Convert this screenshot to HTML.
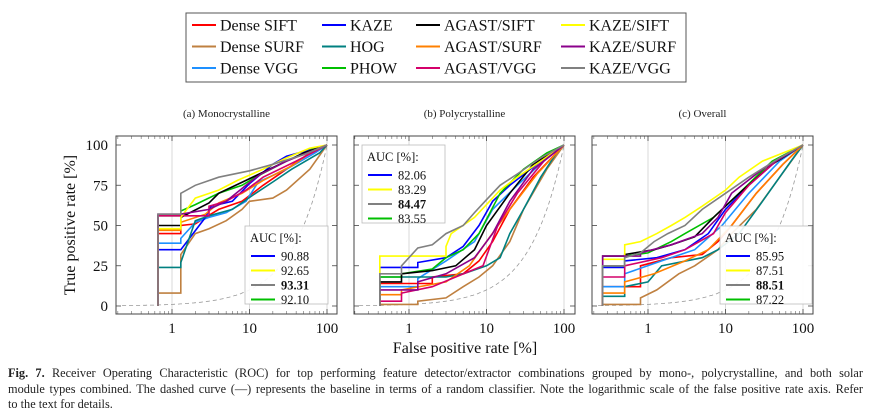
<!DOCTYPE html>
<html><head><meta charset="utf-8"><style>
html,body{margin:0;padding:0;background:#fff;}
body{width:873px;height:419px;overflow:hidden;position:relative;font-family:"Liberation Serif",serif;}
.cap{position:absolute;left:8px;width:855px;font-size:12.3px;line-height:15.5px;color:#222;}
.cap div{text-align:justify;text-align-last:justify;white-space:nowrap;}
.cap div.last{text-align-last:left;}
</style></head><body>
<svg id="chart" width="873" height="419" style="position:absolute;left:0;top:0" font-family="Liberation Serif, serif"></svg>
<div class="cap" style="top:366px">
<div><b>Fig. 7.</b> Receiver Operating Characteristic (ROC) for top performing feature detector/extractor combinations grouped by mono-, polycrystalline, and both solar</div>
<div>module types combined. The dashed curve (—) represents the baseline in terms of a random classifier. Note the logarithmic scale of the false positive rate axis. Refer</div>
<div class="last">to the text for details.</div>
</div>
<script>
const seriesNames=["Dense SIFT","Dense SURF","Dense VGG","KAZE","HOG","PHOW","AGAST/SIFT","AGAST/SURF","AGAST/VGG","KAZE/SIFT","KAZE/SURF","KAZE/VGG"];
const seriesColors=["#ff0000","#bf8040","#1e90ff","#0000ff","#008080","#00bf00","#000000","#ff8000","#d4006a","#ffff00","#8b008b","#808080"];
const panelTitles=["(a)  Monocrystalline","(b)  Polycrystalline","(c)  Overall"];
const xTicks=[1,10,100];
const yTicks=[0,25,50,75,100];
const aucLabels=[["90.88","92.65","93.31","92.10"],["82.06","83.29","84.47","83.55"],["85.95","87.51","88.51","87.22"]];
const aucColors=["#0000ff","#ffff00","#808080","#00bf00"];
const monoFPR=[
[0.66,1.3,2,2.7,4,8,15,30,60,100],
[0.66,1.3,2,3,5,8,10,20,30,60,100],
[0.66,1.3,2,3,5,9,13,30,70,100],
[0.66,1.3,2.7,3.2,6,10,20,30,60,100],
[0.66,1.3,2,3,6,12,20,35,80,100],
[0.66,1.3,2,4,8,12,30,70,100],
[0.66,1.3,3,4,9,18,50,100],
[0.66,1.3,2.7,4,8,15,35,70,100],
[0.66,3,5,9,15,40,100],
[0.66,1.3,2,4,7,15,30,60,100],
[0.66,1.3,3,5,9,14,30,70,100],
[0.66,1.3,2,4,10,20,50,100]];
const monoTPR=[
[45,50,51,55,60,65,75,85,95,100],
[8,32,45,48,53,60,65,67,72,85,100],
[39,42,52,55,58,65,77,85,95,100],
[35,35,55,62,65,76,88,93,97,100],
[24,27,53,56,60,70,77,85,95,100],
[56,59,63,70,75,80,90,98,100],
[50,55,64,70,78,85,95,100],
[47,52,57,64,70,78,87,97,100],
[56,62,65,72,80,90,100],
[48,55,67,72,78,85,92,98,100],
[57,57,60,65,75,82,90,97,100],
[57,70,75,80,84,88,94,100]];
const polyFPR=[
[0.42,2,5,8,12,20,40,100],
[0.42,1.3,3,5,8,12,20,30,60,100],
[0.42,1.3,3,7,12,25,60,100],
[0.42,1.3,3,5,8,12,20,50,100],
[0.42,3,5,10,15,20,30,50,80,100],
[0.42,0.8,2,3,5,8,15,30,60,100],
[0.42,0.8,2,4,7,10,20,40,100],
[0.42,0.8,3,6,10,20,45,100],
[0.42,0.8,2,4,9,14,25,55,100],
[0.42,3,3.5,7,15,25,50,100],
[0.42,1.3,3,7,12,20,40,100],
[0.42,0.8,1.3,2,3,5,7,10,15,25,50,100]];
const polyTPR=[
[14,18,20,28,40,60,80,100],
[1,3,5,12,18,25,40,60,85,100],
[12,17,28,40,60,75,92,100],
[24,27,30,37,50,65,75,90,100],
[18,18,20,25,30,45,60,80,95,100],
[18,20,23,30,35,45,70,85,95,100],
[15,20,22,25,35,50,70,88,100],
[7,10,15,25,40,60,82,100],
[3,8,12,18,25,50,70,90,100],
[31,37,45,55,72,80,90,100],
[10,15,20,30,45,65,85,100],
[20,25,36,38,45,50,58,66,75,82,92,100]];
const allFPR=[
[0.26,0.8,2,5,8,12,25,55,100],
[0.26,0.8,1.3,2.5,4,8,12,25,50,100],
[0.26,0.5,1.5,4,9,20,50,100],
[0.26,0.5,1.3,3,6,10,20,50,100],
[0.26,0.5,1,1.5,5,8,15,30,70,100],
[0.26,0.5,1,2,3,7,15,40,100],
[0.26,0.5,1.2,2,4,7,15,40,100],
[0.26,0.5,1.2,3,6,12,25,55,100],
[0.26,0.5,1.5,3,7,10,20,45,100],
[0.26,0.5,0.8,1.3,2,3,5,10,15,30,100],
[0.26,0.8,2,5,8,12,30,100],
[0.26,0.5,0.8,1.2,1.8,3,5,10,20,50,100]];
const allTPR=[
[12,25,30,32,40,50,70,88,100],
[1,5,10,20,25,35,45,60,80,100],
[12,20,28,35,50,70,90,100],
[24,28,30,35,45,60,75,92,100],
[6,12,15,25,30,35,45,65,90,100],
[25,31,33,40,45,55,70,90,100],
[31,32,35,38,43,55,70,88,100],
[8,15,20,28,35,50,70,88,100],
[18,25,30,35,45,58,75,90,100],
[29,38,40,45,50,55,62,72,80,90,100],
[31,33,38,45,55,70,85,100],
[25,30,33,40,45,50,60,70,80,92,100]];
const panelFPR=[monoFPR,polyFPR,allFPR];
const panelTPR=[monoTPR,polyTPR,allTPR];

const NS="http://www.w3.org/2000/svg";
const svg=document.getElementById('chart');
function mk(tag,attrs,parent){const e=document.createElementNS(NS,tag);for(const k in attrs)e.setAttribute(k,attrs[k]);(parent||svg).appendChild(e);return e;}
const frameL=[116,354,592], oneX=[172,409,648], W=221, frameTop=136, frameBot=314;
const DEC=77.5;
function px(p,f){return oneX[p]+DEC*Math.log10(f);}
function py(t){return 306-1.61*t;}

const lg=mk('g',{});


mk('rect',{x:186,y:13,width:500,height:69,fill:'#fff',stroke:'#555','stroke-width':1},lg);
const colLine=[192,322,416,561];
seriesNames.forEach((n,i)=>{
  const c=Math.floor(i/3), r=i%3, y=25+r*21.5;
  const g=mk('g',{},lg);
  
  
  mk('line',{x1:colLine[c],x2:colLine[c]+24,y1:y,y2:y,stroke:seriesColors[i],'stroke-width':2},g);
  const t=mk('text',{x:colLine[c]+28,y:y+5.5,'font-size':16,fill:'#111'},g);t.textContent=n;
});

for(let p=0;p<3;p++){
  const g=mk('g',{});
  
  
  const L=frameL[p], cx=L+W/2;
  const tt=mk('text',{x:cx,y:117,'text-anchor':'middle','font-size':11,fill:'#222'},g);tt.textContent=panelTitles[p];
  const cp=mk('clipPath',{id:'clip'+p},g);
  mk('rect',{x:L,y:frameTop,width:W,height:frameBot-frameTop},cp);
  xTicks.forEach(v=>{mk('line',{x1:px(p,v),x2:px(p,v),y1:frameTop,y2:frameBot,stroke:'#d0d0d0','stroke-width':0.8},g);});
  for(let d=0.1;d<=100;d*=10){for(let k=2;k<=9;k++){const x=px(p,d*k);if(x>L&&x<L+W){mk('line',{x1:x,x2:x,y1:frameBot,y2:frameBot-3,stroke:'#666','stroke-width':0.6},g);mk('line',{x1:x,x2:x,y1:frameTop,y2:frameTop+3,stroke:'#666','stroke-width':0.6},g);}}}
  xTicks.forEach(v=>{const x=px(p,v);mk('line',{x1:x,x2:x,y1:frameBot,y2:frameBot-5,stroke:'#444','stroke-width':0.8},g);mk('line',{x1:x,x2:x,y1:frameTop,y2:frameTop+5,stroke:'#444','stroke-width':0.8},g);
    const t=mk('text',{x:x,y:333,'text-anchor':'middle','font-size':15,fill:'#111'},g);t.textContent=v;});
  yTicks.forEach(v=>{const y=py(v);mk('line',{x1:L,x2:L+5,y1:y,y2:y,stroke:'#444','stroke-width':0.8},g);mk('line',{x1:L+W-5,x2:L+W,y1:y,y2:y,stroke:'#444','stroke-width':0.8},g);
    if(p===0){const t=mk('text',{x:108,y:y+5,'text-anchor':'end','font-size':15,fill:'#111'},g);t.textContent=v;}});
  let d='';for(let i=0;i<=200;i++){const f=0.15*Math.pow(100/0.15,i/200);d+=(i?'L':'M')+px(p,f).toFixed(1)+','+py(f).toFixed(1);}
  const bl=mk('path',{d:d,fill:'none',stroke:'#999','stroke-width':0.8,'stroke-dasharray':'4,3','clip-path':'url(#clip'+p+')'},g);
  
  
  for(let s=0;s<12;s++){
    const F=panelFPR[p][s], T=panelTPR[p][s];
    let dd='M'+px(p,F[0]).toFixed(1)+','+py(0).toFixed(1)+'L'+px(p,F[0]).toFixed(1)+','+py(T[0]).toFixed(1);
    // first step horizontal (flat start), then connect points in log space
    if(F.length>1){dd+='L'+px(p,F[1]).toFixed(1)+','+py(T[0]).toFixed(1)+'L'+px(p,F[1]).toFixed(1)+','+py(T[1]).toFixed(1);}
    for(let i=2;i<F.length;i++){dd+='L'+px(p,F[i]).toFixed(1)+','+py(T[i]).toFixed(1);}
    const pth=mk('path',{d:dd,fill:'none',stroke:seriesColors[s],'stroke-width':1.6,'stroke-linejoin':'miter','clip-path':'url(#clip'+p+')'},g);
    
    
  }
  mk('rect',{x:L,y:frameTop,width:W,height:frameBot-frameTop,fill:'none',stroke:'#444','stroke-width':1},g);
  const bx=[245,362,720][p], by=[226,145,226][p], bw=[83,83,92][p];
  const ab=mk('g',{},g);
  
  
  mk('rect',{x:bx,y:by,width:bw,height:78,fill:'#fff','fill-opacity':0.9,stroke:'#bbb','stroke-width':0.8},ab);
  const ah=mk('text',{x:bx+5,y:by+16,'font-size':12.5,fill:'#111'},ab);ah.textContent='AUC [%]:';
  aucLabels[p].forEach((v,i)=>{const y=by+30+i*14.5;
    mk('line',{x1:bx+6,x2:bx+30,y1:y,y2:y,stroke:aucColors[i],'stroke-width':2},ab);
    const t=mk('text',{x:bx+36,y:y+4.5,'font-size':12.5,fill:'#111','font-weight':i===2?'bold':'normal'},ab);t.textContent=v;});
}
const yl=mk('text',{x:0,y:0,'font-size':16,'text-anchor':'middle',fill:'#111',transform:'translate(75,225) rotate(-90)'});
yl.textContent='True positive rate [%]';


const xl=mk('text',{x:465,y:353,'font-size':16,'text-anchor':'middle',fill:'#111'});
xl.textContent='False positive rate [%]';


</script>
</body></html>
